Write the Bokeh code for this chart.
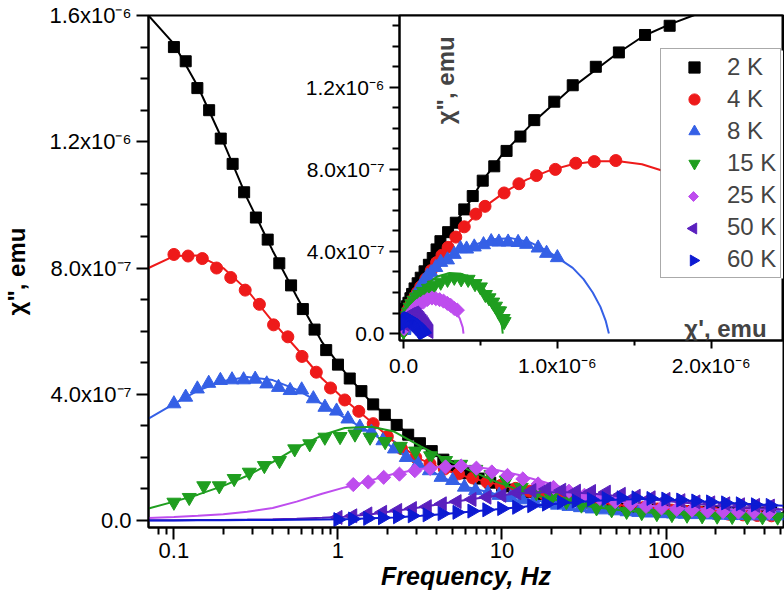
from math import pi

from bokeh.plotting import figure
from bokeh.layouts import column
from bokeh.models import (Range1d, FixedTicker, CustomJSTickFormatter, Label,
                          Legend, LegendItem)
from bokeh.embed import file_html
from bokeh.resources import INLINE

FONT = "Liberation Sans"

# all susceptibilities below are in units of 1e-7 emu

temps = ["2 K", "4 K", "8 K", "15 K", "25 K", "50 K", "60 K"]
colors = ["#000000", "#EE1A1A", "#3560E6", "#1F9E1F", "#BE4DEE", "#5A20BE", "#0D1AD2"]

# main plot axes
x_ticks = [0.1, 1, 10, 100]
x_tick_labels = ["0.1", "1", "10", "100"]
x_minor = [0.08, 0.09, 0.2, 0.3, 0.4, 0.5, 0.6, 0.7, 0.8, 0.9, 2, 3, 4, 5, 6, 7, 8, 9,
           20, 30, 40, 50, 60, 70, 80, 90, 200, 300, 400, 500]
y_ticks = [0, 4, 8, 12, 16]
y_tick_labels = ["0.0", "4.0x10⁻⁷", "8.0x10⁻⁷", "1.2x10⁻⁶", "1.6x10⁻⁶"]
y_minor = [1, 2, 3, 5, 6, 7, 9, 10, 11, 13, 14, 15]

# inset axes
ix_ticks = [0, 10, 20]
ix_tick_labels = ["0.0", "1.0x10⁻⁶", "2.0x10⁻⁶"]
ix_minor = [5, 15]
iy_ticks = [0, 4, 8, 12]
iy_tick_labels = ["0.0", "4.0x10⁻⁷", "8.0x10⁻⁷", "1.2x10⁻⁶"]
iy_minor = [1, 2, 3, 5, 6, 7, 9, 10, 11, 13, 14, 15]

# measured data: frequency (Hz), chi'' and chi'
freq_2k = [0.1, 0.118, 0.139, 0.164, 0.193, 0.228, 0.268, 0.316, 0.373, 0.439, 0.518, 0.611,
           0.72, 0.848, 1.0, 1.18, 1.39, 1.64, 1.93, 2.28, 2.68, 3.16, 3.73, 4.39, 5.18, 6.11,
           7.2, 8.48, 10.0, 11.8, 13.9, 16.4, 19.3, 22.8, 26.8, 31.6, 37.3, 43.9, 51.8, 61.1,
           72.0, 84.8, 100, 118, 139, 164, 193, 228, 268, 316, 373, 439]
chi2_2k = [15.0, 14.55, 13.7, 13.0, 12.1, 11.3, 10.4, 9.6, 8.9, 8.15, 7.45, 6.7, 6.05, 5.4,
           4.94, 4.5, 4.1, 3.68, 3.35, 3.03, 2.72, 2.45, 2.2, 1.93, 1.72, 1.5, 1.33, 1.2, 1.08,
           0.98, 0.9, 0.83, 0.75, 0.68, 0.62, 0.57, 0.52, 0.48, 0.45, 0.41, 0.38, 0.35, 0.33,
           0.31, 0.3, 0.28, 0.27, 0.26, 0.26, 0.25, 0.25, 0.24]
chi1_2k = [17.3, 15.7, 14.0, 12.5, 11.0, 9.8, 8.5, 7.6, 6.7, 5.9, 5.15, 4.5, 3.95, 3.4, 2.9,
           2.4, 2.15, 1.9, 1.65, 1.37, 1.12, 0.92, 0.72, 0.56, 0.45, 0.32, 0.22, 0.13, 0.06,
           0.02, 0.0, 0.0, -0.01, -0.01, -0.01, -0.02, -0.02, -0.02, -0.02, -0.02, -0.03, -0.03,
           -0.03, -0.03, -0.03, -0.03, -0.03, -0.03, -0.03, -0.03, -0.03, -0.03]

freq_4k = [0.1, 0.122, 0.149, 0.182, 0.222, 0.272, 0.332, 0.405, 0.495, 0.604, 0.738, 0.901,
           1.1, 1.34, 1.64, 2.0, 2.44, 2.98, 3.64, 4.45, 5.43, 6.63, 8.09, 9.88, 12.1, 14.7,
           18.0, 22.0, 26.8, 32.7, 40.0, 48.8, 59.6, 72.8, 88.9, 108.6, 132.6, 161.9, 197.7,
           241.4, 294.8, 360.0, 439.5]
chi2_4k = [8.43, 8.38, 8.3, 8.0, 7.7, 7.3, 6.85, 6.2, 5.82, 5.2, 4.7, 4.2, 3.82, 3.46, 3.07,
           2.66, 2.28, 2.0, 1.8, 1.63, 1.48, 1.35, 1.22, 1.12, 1.02, 0.93, 0.85, 0.77, 0.7,
           0.63, 0.57, 0.51, 0.46, 0.41, 0.37, 0.33, 0.29, 0.26, 0.23, 0.2, 0.18, 0.16, 0.15]
chi1_4k = [13.8, 12.4, 11.2, 9.87, 8.64, 7.5, 6.54, 5.3, 4.7, 3.95, 3.4, 2.9, 2.5, 2.15, 1.8,
           1.45, 1.12, 0.9, 0.75, 0.62, 0.52, 0.43, 0.35, 0.28, 0.22, 0.17, 0.13, 0.1, 0.08,
           0.06, 0.05, 0.04, 0.03, 0.03, 0.02, 0.02, 0.01, 0.01, 0.0, 0.0, 0.0, -0.01, -0.01]

freq_8k = [0.1, 0.118, 0.139, 0.163, 0.192, 0.226, 0.266, 0.313, 0.368, 0.434, 0.511, 0.601,
           0.708, 0.833, 0.981, 1.15, 1.36, 1.6, 1.88, 2.21, 2.61, 3.07, 3.61, 4.25, 5.0, 5.9,
           6.9, 8.2, 9.6, 11.3, 13.3, 15.7, 18.5, 21.8, 25.6, 30.1, 35.5, 41.8, 49.2, 57.9,
           68.2, 80.2, 94.4, 111, 131, 154, 181, 213, 251, 295, 348, 409, 482]
chi2_8k = [3.70, 3.91, 4.17, 4.35, 4.44, 4.46, 4.46, 4.48, 4.33, 4.22, 4.12, 4.14, 3.86, 3.59,
           3.47, 3.22, 2.96, 2.80, 2.53, 2.27, 2.0, 1.8, 1.58, 1.37, 1.27, 1.06, 0.95, 0.87,
           0.8, 0.73, 0.66, 0.6, 0.54, 0.49, 0.45, 0.41, 0.37, 0.34, 0.31, 0.28, 0.26, 0.24,
           0.22, 0.21, 0.2, 0.19, 0.18, 0.17, 0.16, 0.16, 0.15, 0.15, 0.15]
chi1_8k = [10.0, 9.3, 8.75, 8.0, 7.45, 6.8, 6.2, 5.7, 5.2, 4.6, 4.1, 3.7, 3.3, 2.86, 2.42, 2.1,
           1.8, 1.55, 1.3, 1.08, 0.88, 0.72, 0.58, 0.47, 0.38, 0.3, 0.24, 0.19, 0.16, 0.13,
           0.11, 0.09, 0.08, 0.07, 0.06, 0.05, 0.05, 0.04, 0.04, 0.03, 0.03, 0.03, 0.02, 0.02,
           0.02, 0.01, 0.01, 0.01, 0.0, 0.0, 0.0, 0.0, 0.0]

freq_15k = [0.1, 0.124, 0.152, 0.189, 0.233, 0.288, 0.356, 0.44, 0.545, 0.673, 0.832, 1.03,
            1.27, 1.57, 1.94, 2.4, 2.97, 3.67, 4.53, 5.6, 6.92, 8.56, 10.6, 13.1, 16.2, 20.0,
            24.7, 30.5, 37.7, 46.6, 57.5, 71.1, 87.9, 108.6, 134.3, 166, 205, 253, 313, 387, 479]
chi2_15k = [0.58, 0.73, 1.1, 1.1, 1.33, 1.53, 1.74, 1.9, 2.27, 2.43, 2.64, 2.66, 2.74, 2.64,
            2.5, 2.35, 2.2, 2.05, 1.9, 1.78, 1.62, 1.45, 1.28, 1.05, 0.88, 0.72, 0.6, 0.49, 0.4,
            0.34, 0.29, 0.25, 0.22, 0.19, 0.17, 0.15, 0.14, 0.13, 0.12, 0.12, 0.11]
chi1_15k = [6.54, 6.48, 6.25, 6.15, 5.98, 5.8, 5.56, 5.32, 5.0, 4.65, 4.2, 3.75, 3.3, 2.86,
            2.42, 2.0, 1.62, 1.3, 1.05, 0.85, 0.68, 0.54, 0.43, 0.33, 0.26, 0.2, 0.15, 0.12,
            0.09, 0.07, 0.06, 0.05, 0.04, 0.03, 0.03, 0.02, 0.02, 0.01, 0.01, 0.0, 0.0]

freq_25k = [1.24, 1.53, 1.9, 2.37, 2.94, 3.65, 4.53, 5.63, 6.98, 8.67, 10.8, 13.4, 16.6, 20.6,
            25.6, 31.8, 39.5, 49.0, 60.8, 75.5, 93.8, 116, 144, 179, 223, 276, 343, 426]
chi2_25k = [1.14, 1.22, 1.37, 1.47, 1.58, 1.65, 1.7, 1.73, 1.66, 1.54, 1.43, 1.32, 1.16, 1.05,
            0.93, 0.8, 0.7, 0.6, 0.52, 0.45, 0.4, 0.36, 0.33, 0.3, 0.28, 0.27, 0.26, 0.25]
chi1_25k = [3.5, 3.3, 3.07, 2.85, 2.6, 2.35, 2.1, 1.85, 1.55, 1.3, 1.05, 0.85, 0.68, 0.55, 0.45,
            0.36, 0.29, 0.23, 0.18, 0.14, 0.11, 0.09, 0.07, 0.06, 0.05, 0.04, 0.04, 0.03]

freq_hi = [1.0, 1.23, 1.52, 1.87, 2.31, 2.84, 3.5, 4.32, 5.32, 6.56, 8.09, 9.97, 12.3, 15.2,
           18.7, 23.1, 28.4, 35.1, 43.2, 53.3, 65.7, 81.0, 99.8, 123, 152, 187, 231, 284, 351, 432]
chi2_50k = [0.1, 0.15, 0.21, 0.26, 0.32, 0.38, 0.44, 0.53, 0.6, 0.67, 0.74, 0.8, 0.88, 0.95,
            1.0, 0.96, 0.93, 0.92, 0.9, 0.83, 0.77, 0.72, 0.67, 0.63, 0.59, 0.56, 0.53, 0.5,
            0.48, 0.46]
chi1_50k = [1.65, 1.6, 1.55, 1.5, 1.45, 1.4, 1.35, 1.28, 1.2, 1.12, 1.05, 0.97, 0.88, 0.8, 0.72,
            0.62, 0.55, 0.48, 0.42, 0.35, 0.3, 0.26, 0.22, 0.19, 0.16, 0.14, 0.12, 0.1, 0.09, 0.08]
chi2_60k = [0.03, 0.05, 0.07, 0.09, 0.12, 0.15, 0.18, 0.22, 0.26, 0.3, 0.34, 0.38, 0.42, 0.47,
            0.52, 0.58, 0.62, 0.67, 0.7, 0.72, 0.72, 0.7, 0.68, 0.65, 0.62, 0.59, 0.56, 0.53,
            0.5, 0.48]
chi1_60k = [1.3, 1.28, 1.26, 1.24, 1.21, 1.18, 1.15, 1.1, 1.05, 1.0, 0.95, 0.9, 0.84, 0.78, 0.7,
            0.62, 0.55, 0.47, 0.4, 0.33, 0.27, 0.22, 0.18, 0.15, 0.12, 0.1, 0.08, 0.07, 0.06, 0.05]

# fitted curves, chi'' vs frequency
fit_freq = [0.07, 0.1, 0.14, 0.2, 0.28, 0.4, 0.56, 0.8, 1.1, 1.6, 2.2, 3.2, 4.5, 6.3, 9, 12.5,
            18, 25, 35, 50, 70, 100, 140, 200, 280, 400, 520]
fit_2k = [16.0, 15.1, 13.75, 12.0, 10.2, 8.55, 7.1, 5.65, 4.7, 3.73, 3.1, 2.43, 1.9, 1.48, 1.16,
          0.95, 0.77, 0.63, 0.52, 0.44, 0.38, 0.33, 0.3, 0.28, 0.26, 0.25, 0.24]
fit_4k = [8.0, 8.38, 8.4, 8.0, 7.3, 6.3, 5.45, 4.5, 3.83, 3.12, 2.5, 1.94, 1.6, 1.36, 1.17, 1.0,
          0.85, 0.72, 0.61, 0.5, 0.42, 0.35, 0.3, 0.25, 0.22, 0.19, 0.18]
fit_8k = [3.23, 3.7, 4.12, 4.42, 4.55, 4.45, 4.15, 3.7, 3.25, 2.78, 2.28, 1.75, 1.33, 1.05, 0.85,
          0.72, 0.6, 0.5, 0.42, 0.36, 0.3, 0.26, 0.23, 0.2, 0.19, 0.17, 0.16]
fit_15k = [0.38, 0.6, 0.82, 1.1, 1.42, 1.85, 2.3, 2.7, 2.93, 2.97, 2.82, 2.35, 1.95, 1.6, 1.25,
           0.98, 0.74, 0.57, 0.44, 0.34, 0.27, 0.22, 0.18, 0.15, 0.13, 0.12, 0.11]
fit_25k = [0.08, 0.11, 0.15, 0.2, 0.28, 0.4, 0.6, 0.85, 1.05, 1.28, 1.48, 1.63, 1.72, 1.72, 1.62,
           1.45, 1.22, 1.0, 0.8, 0.62, 0.5, 0.42, 0.38, 0.36, 0.35, 0.35, 0.35]
fit_50k = [0.01, 0.01, 0.015, 0.02, 0.03, 0.045, 0.06, 0.09, 0.12, 0.2, 0.3, 0.42, 0.55, 0.67,
           0.78, 0.86, 0.9, 0.9, 0.86, 0.78, 0.7, 0.62, 0.55, 0.48, 0.43, 0.38, 0.35]
fit_60k = [0.005, 0.005, 0.01, 0.01, 0.015, 0.02, 0.025, 0.03, 0.04, 0.07, 0.1, 0.15, 0.21,
           0.28, 0.35, 0.42, 0.5, 0.56, 0.62, 0.66, 0.68, 0.67, 0.63, 0.58, 0.54, 0.5, 0.47]

# fitted Cole-Cole arcs for the inset: chi' and chi''
arc1_2k = [0.0, 0.1, 0.4, 1.0, 1.8, 2.9, 4.0, 5.1, 6.5, 8.5, 10.9, 13.8, 15.6, 17.3, 19.0, 20.5]
arc2_2k = [0.0, 0.9, 1.7, 2.6, 3.6, 4.95, 6.05, 7.4, 8.8, 10.35, 11.95, 13.6, 14.5, 15.07, 15.55, 15.9]
arc1_4k = [0.0, 0.05, 0.2, 0.5, 1.0, 1.8, 2.9, 4.0, 5.3, 6.7, 8.0, 9.5, 11.0, 12.5, 14.0, 15.5,
           17.0, 18.5, 20.0]
arc2_4k = [0.0, 0.6, 1.2, 1.75, 2.4, 3.25, 4.3, 5.25, 6.2, 6.95, 7.5, 7.95, 8.25, 8.4, 8.4, 8.25,
           7.9, 7.3, 6.5]
arc1_8k = [0.0, 0.1, 0.4, 1.0, 2.0, 3.2, 4.5, 5.8, 7.0, 8.2, 9.3, 10.2, 11.0, 11.7, 12.3, 12.8,
           13.15, 13.35]
arc2_8k = [0.0, 0.8, 1.5, 2.3, 3.1, 3.8, 4.3, 4.6, 4.65, 4.45, 4.05, 3.6, 3.2, 2.65, 2.0, 1.3,
           0.6, 0.0]
arc1_15k = [0.0, 0.1, 0.35, 0.8, 1.5, 2.2, 3.0, 3.8, 4.5, 5.2, 5.8, 6.2, 6.4, 6.45]
arc2_15k = [0.0, 0.6, 1.2, 1.8, 2.4, 2.78, 2.95, 2.9, 2.65, 2.2, 1.6, 0.95, 0.35, 0.0]
arc1_25k = [0.0, 0.05, 0.2, 0.5, 1.0, 1.6, 2.2, 2.8, 3.3, 3.65, 3.85, 3.9]
arc2_25k = [0.0, 0.4, 0.8, 1.2, 1.55, 1.75, 1.75, 1.55, 1.2, 0.75, 0.3, 0.0]
arc1_50k = [0.0, 0.03, 0.2, 0.5, 0.85, 1.15, 1.4, 1.6, 1.7]
arc2_50k = [0.0, 0.45, 0.8, 0.97, 0.98, 0.85, 0.6, 0.3, 0.0]
arc1_60k = [0.0, 0.03, 0.15, 0.4, 0.7, 0.95, 1.15, 1.27, 1.3]
arc2_60k = [0.0, 0.4, 0.62, 0.73, 0.72, 0.58, 0.35, 0.1, 0.0]

series = [
    (freq_2k, chi2_2k, chi1_2k, fit_2k, arc1_2k, arc2_2k),
    (freq_4k, chi2_4k, chi1_4k, fit_4k, arc1_4k, arc2_4k),
    (freq_8k, chi2_8k, chi1_8k, fit_8k, arc1_8k, arc2_8k),
    (freq_15k, chi2_15k, chi1_15k, fit_15k, arc1_15k, arc2_15k),
    (freq_25k, chi2_25k, chi1_25k, fit_25k, arc1_25k, arc2_25k),
    (freq_hi, chi2_50k, chi1_50k, fit_50k, arc1_50k, arc2_50k),
    (freq_hi, chi2_60k, chi1_60k, fit_60k, arc1_60k, arc2_60k),
]
# marker, size, angle
markers = [("square", 11, 0), ("circle", 12, 0), ("triangle", 14, 0),
           ("inverted_triangle", 14, 0), ("square", 10, pi / 4),
           ("triangle", 14, pi / 2), ("triangle", 14, -pi / 2)]


def tick_labels(tick_values, label_texts):
    return CustomJSTickFormatter(args=dict(tv=tick_values, tl=label_texts), code="""
        for (let i = 0; i < tv.length; i++) {
            if (Math.abs(tv[i] - tick) <= 1e-6 * Math.max(1, Math.abs(tv[i])))
                return tl[i];
        }
        return "";
    """)


def style_axis(ax, font_size, major_out, minor_out):
    ax.axis_line_width = 2
    ax.major_tick_line_width = 2
    ax.minor_tick_line_width = 2
    ax.major_tick_in = 0
    ax.minor_tick_in = 0
    ax.major_tick_out = major_out
    ax.minor_tick_out = minor_out
    ax.major_label_text_font = FONT
    ax.major_label_text_font_size = font_size
    ax.major_label_text_color = "black"
    ax.axis_label_text_font = FONT
    ax.axis_label_text_font_size = "24px"
    ax.axis_label_text_font_style = "bold"
    ax.axis_label_text_color = "black"


# both figures share this left border: Bokeh lines up the frames of a column's plots
LEFT = 146

# main plot: chi'' vs frequency
p = figure(frame_width=635, frame_height=512, x_axis_type="log",
           x_range=Range1d(0.07, 520), y_range=Range1d(-0.22, 16.0),
           min_border_left=LEFT, min_border_right=2, min_border_top=15, min_border_bottom=71,
           output_backend="svg", toolbar_location=None)
p.grid.visible = False
p.outline_line_color = "black"
p.outline_line_width = 2
p.background_fill_color = "white"

p.xaxis.ticker = FixedTicker(ticks=x_ticks, minor_ticks=x_minor)
p.xaxis.formatter = tick_labels(x_ticks, x_tick_labels)
p.yaxis.ticker = FixedTicker(ticks=y_ticks, minor_ticks=y_minor)
p.yaxis.formatter = tick_labels(y_ticks, y_tick_labels)
style_axis(p.xaxis[0], "22px", 12, 7)
style_axis(p.yaxis[0], "22px", 12, 8)
p.xaxis.major_label_standoff = 3
p.xaxis.axis_label = "Frequency, Hz"
p.xaxis.axis_label_standoff = 1
p.xaxis.axis_label_text_font_style = "bold italic"
p.xaxis.axis_label_text_font_size = "25px"
p.yaxis.axis_label = 'χ", emu'
p.yaxis.axis_label_standoff = 16

for (freq, chi2, chi1, fit, arc1, arc2), col, (mk, sz, ang) in zip(series, colors, markers):
    p.scatter(freq, chi2, marker=mk, size=sz, angle=ang, fill_color=col, line_color=col)
    p.line(fit_freq, fit, line_color=col, line_width=2)

# inset: Cole-Cole plot, laid over the top right corner of the main plot
IN_W, IN_H, IN_TOP = 384, 325, 2
ins_x = Range1d(-0.26, 24.7)
ins_y = Range1d(-0.34, 15.5)
ins = figure(frame_width=IN_W, frame_height=IN_H, x_range=ins_x, y_range=ins_y,
             min_border_left=LEFT, min_border_right=2, min_border_top=IN_TOP,
             min_border_bottom=44, output_backend="svg", toolbar_location=None)
ins.grid.visible = False
ins.outline_line_color = "black"
ins.outline_line_width = 2
ins.background_fill_color = "white"
ins.border_fill_color = None
ins.xaxis.ticker = FixedTicker(ticks=ix_ticks, minor_ticks=ix_minor)
ins.xaxis.formatter = tick_labels(ix_ticks, ix_tick_labels)
ins.yaxis.ticker = FixedTicker(ticks=iy_ticks, minor_ticks=iy_minor)
ins.yaxis.formatter = tick_labels(iy_ticks, iy_tick_labels)
style_axis(ins.xaxis[0], "21px", 8, 5)
style_axis(ins.yaxis[0], "21px", 10, 7)

# legend geometry (screen px, from the inset frame's bottom-left corner)
LEG_X, LEG_Y, PAD, ROW_H, GAP, GLYPH_W = 261, 62, 4, 28, 4, 58
leg_h = 2 * PAD + len(temps) * ROW_H + (len(temps) - 1) * GAP


def inset_x(px):
    return ins_x.start + px / IN_W * (ins_x.end - ins_x.start)


def inset_y(py):
    return ins_y.start + py / IN_H * (ins_y.end - ins_y.start)


items = []
swatch_x, swatch_y, swatch_mk, swatch_sz, swatch_ang, swatch_col = [], [], [], [], [], []
for i, ((freq, chi2, chi1, fit, arc1, arc2), col, (mk, sz, ang), name) in enumerate(
        zip(series, colors, markers, temps)):
    r = ins.scatter(chi1, chi2, marker=mk, size=sz, angle=ang, fill_color=col, line_color=col)
    ins.line(arc1, arc2, line_color=col, line_width=2)
    if ang == 0:
        items.append(LegendItem(label=name, renderers=[r]))
    else:
        # the legend draws markers unrotated, so rotated swatches are drawn separately
        blank = ins.scatter([], [], marker=mk, size=sz, fill_alpha=0, line_alpha=0)
        items.append(LegendItem(label=name, renderers=[blank]))
        swatch_x.append(inset_x(LEG_X + PAD + GLYPH_W / 2))
        swatch_y.append(inset_y(LEG_Y + leg_h - PAD - ROW_H / 2 - i * (ROW_H + GAP)))
        swatch_mk.append(mk)
        swatch_sz.append(sz - 3)
        swatch_ang.append(ang)
        swatch_col.append(col)

# white legend backing (drawn among the glyphs), then the rotated swatches on it
ins.quad(left=inset_x(LEG_X), right=inset_x(IN_W), bottom=inset_y(LEG_Y),
         top=inset_y(LEG_Y + leg_h), fill_color="white", line_color=None)
ins.scatter(swatch_x, swatch_y, marker=swatch_mk, size=swatch_sz, angle=swatch_ang,
            fill_color=swatch_col, line_color=swatch_col)

legend = Legend(items=items, location=(LEG_X, LEG_Y), margin=0, padding=PAD, spacing=GAP,
                glyph_width=GLYPH_W, glyph_height=ROW_H, label_height=ROW_H, label_standoff=4,
                label_text_font=FONT, label_text_font_size="24px",
                border_line_color="#555555", border_line_width=1,
                background_fill_alpha=0)
ins.add_layout(legend)

ins.add_layout(Label(x=23.6, y=0.25, text="χ', emu", text_align="right",
                     text_baseline="alphabetic", text_font=FONT, text_font_size="24px",
                     text_font_style="bold"))
ins.add_layout(Label(x=2.75, y=10.2, text='χ", emu', angle=pi / 2, text_align="left",
                     text_baseline="alphabetic", text_font=FONT, text_font_size="24px",
                     text_font_style="bold"))

# inset frame top-left sits at (397, 15) on the page
ins.styles = {"position": "absolute", "left": f"{397 - LEFT}px", "top": f"{15 - IN_TOP}px"}
page = column(p, ins, styles={"position": "relative"})

open("out.html", "w").write(file_html(page, INLINE))
